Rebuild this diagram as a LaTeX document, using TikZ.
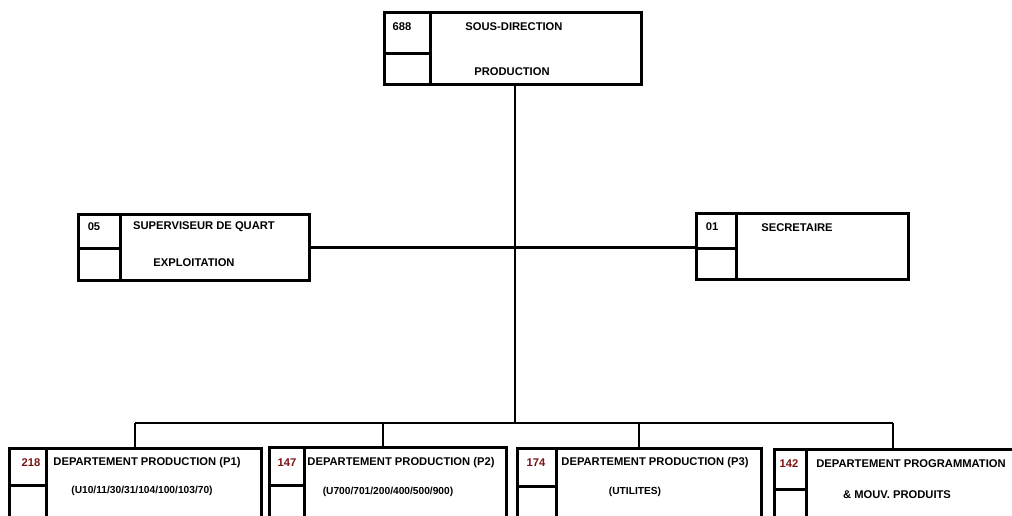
\documentclass[tikz,border=0pt]{standalone}
\usepackage{fontspec}
\setmainfont{Liberation Sans}
\usetikzlibrary{positioning}
\definecolor{numred}{HTML}{7A1414}
\tikzset{
  cell/.style={rectangle,draw,line width=2.6pt,inner sep=0pt,anchor=north west},
  lbl/.style={inner sep=0pt,font=\bfseries\fontsize{11.2}{13}\selectfont},
  sublbl/.style={inner sep=0pt,font=\bfseries\fontsize{10.2}{12}\selectfont},
  num/.style={lbl,text=numred},
  link/.style={line width=2.6pt},
}

\begin{document}
\begin{tikzpicture}[x=1pt,y=-1pt]
    \useasboundingbox (0,0) rectangle (1012,515);
    \clip (0,0) rectangle (1012,515);

    % Sous-direction
    \node[cell,minimum width=46pt,minimum height=41pt] (sdnum) at (383,11) {};
    \node[cell,minimum width=46pt,minimum height=31pt] (sdfree) at (383,52) {};
    \node[cell,minimum width=211pt,minimum height=72pt] (sd) at (429,11) {};
    \node[lbl] (sdno) at (402,27) {688};
    \node[lbl] (sdtop) at (514,27) {SOUS-DIRECTION};
    \node[lbl] (sdbot) at (512,72) {PRODUCTION};

    % Superviseur
    \node[cell,minimum width=42pt,minimum height=34pt] (sqnum) at (77,213) {};
    \node[cell,minimum width=42pt,minimum height=32pt] (sqfree) at (77,247) {};
    \node[cell,minimum width=189pt,minimum height=66pt] (sq) at (119,213) {};
    \node[lbl] (sqno) at (94,227) {05};
    \node[lbl] (sqtop) at (204,227) {SUPERVISEUR DE QUART};
    \node[lbl] (sqbot) at (194,263) {EXPLOITATION};

    % Secretaire
    \node[cell,minimum width=40pt,minimum height=35pt] (secnum) at (695,212) {};
    \node[cell,minimum width=40pt,minimum height=31pt] (secfree) at (695,247) {};
    \node[cell,minimum width=172pt,minimum height=66pt] (sec) at (735,212) {};
    \node[lbl] (secno) at (712,227) {01};
    \node[lbl] (sectop) at (797,228) {SECRETAIRE};

    % Departements
    \node[cell,minimum width=37pt,minimum height=37pt] (p1num) at (8,447) {};
    \node[cell,minimum width=37pt,minimum height=46pt] (p1free) at (8,484) {};
    \node[cell,minimum width=215pt,minimum height=83pt] (p1) at (45,447) {};
    \node[num] (p1no) at (31,463) {218};
    \node[lbl] (p1top) at (147,463) {DEPARTEMENT PRODUCTION (P1)};
    \node[sublbl] (p1bot) at (142,491) {(U10/11/30/31/104/100/103/70)};

    \node[cell,minimum width=35pt,minimum height=38pt] (p2num) at (268,446) {};
    \node[cell,minimum width=35pt,minimum height=46pt] (p2free) at (268,484) {};
    \node[cell,minimum width=202pt,minimum height=84pt] (p2) at (303,446) {};
    \node[num] (p2no) at (287,463) {147};
    \node[lbl] (p2top) at (401,463) {DEPARTEMENT PRODUCTION (P2)};
    \node[sublbl] (p2bot) at (388,492) {(U700/701/200/400/500/900)};

    \node[cell,minimum width=39pt,minimum height=38pt] (p3num) at (516,447) {};
    \node[cell,minimum width=39pt,minimum height=45pt] (p3free) at (516,485) {};
    \node[cell,minimum width=205pt,minimum height=83pt] (p3) at (555,447) {};
    \node[num] (p3no) at (536,463) {174};
    \node[lbl] (p3top) at (655,463) {DEPARTEMENT PRODUCTION (P3)};
    \node[sublbl] (p3bot) at (635,492) {(UTILITES)};

    \node[cell,minimum width=32pt,minimum height=40pt] (p4num) at (773,448) {};
    \node[cell,minimum width=32pt,minimum height=42pt] (p4free) at (773,488) {};
    \node[cell,minimum width=208pt,minimum height=82pt] (p4) at (805,448) {};
    \node[num] (p4no) at (789,464) {142};
    \node[lbl] (p4top) at (911,464) {DEPARTEMENT PROGRAMMATION};
    \node[lbl] (p4bot) at (897,495) {\&  MOUV. PRODUITS};

    % Liaisons
    \coordinate (bus) at (515,423);
    \coordinate (busl) at (135,423);
    \coordinate (busr) at (893,423);
    \draw[link] (bus |- sd.south) -- (bus);
    \draw[link] (sq.east) -- (sq.east -| secnum.west);
    \draw[link] (busl) -- (busr);
    \foreach \d/\x in {p1/135,p2/383,p3/639,p4/893}{
      \draw[link] (\x,423) -- (\x,423 |- \d.north);
    }
\end{tikzpicture}
\end{document}
